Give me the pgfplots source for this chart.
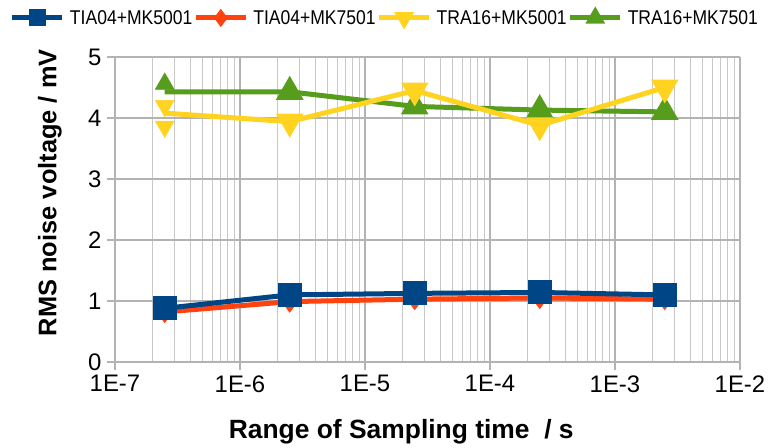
\documentclass[border=0pt]{standalone}
\usepackage{graphicx}
\usepackage{pgfplots}
\pgfplotsset{compat=1.18}
\usepackage{fontspec}
\setmainfont{Liberation Sans}
\definecolor{lblue}{HTML}{004586}
\definecolor{lred}{HTML}{FF420E}
\definecolor{lyellow}{HTML}{FFD320}
\definecolor{lgreen}{HTML}{579D1C}
\definecolor{gridgray}{HTML}{B3B3B3}
\definecolor{minorgray}{HTML}{C8C8C8}
\newcommand{\legtext}[1]{\scalebox{0.88}[1]{\fontsize{20}{24}\selectfont #1}}
\begin{document}
\begin{tikzpicture}
\useasboundingbox (-115bp,-86bp) rectangle (654bp,362bp);
\begin{axis}[
  scale only axis, width=625bp, height=305bp,
  at={(0,0)}, anchor=south west,
  xmode=log, xmin=1e-7, xmax=1e-2, ymin=0, ymax=5,
  xtick={1e-7,1e-6,1e-5,1e-4,1e-3,1e-2},
  xticklabels={1E-7,1E-6,1E-5,1E-4,1E-3,1E-2},
  ytick={0,1,2,3,4,5},
  minor xtick={2e-7,3e-7,4e-7,5e-7,6e-7,7e-7,8e-7,9e-7,
    2e-6,3e-6,4e-6,5e-6,6e-6,7e-6,8e-6,9e-6,
    2e-5,3e-5,4e-5,5e-5,6e-5,7e-5,8e-5,9e-5,
    2e-4,3e-4,4e-4,5e-4,6e-4,7e-4,8e-4,9e-4,
    2e-3,3e-3,4e-3,5e-3,6e-3,7e-3,8e-3,9e-3},
  ymajorgrids, xmajorgrids, xminorgrids,
  major grid style={gridgray, line width=1.2bp},
  minor grid style={minorgray, line width=1bp},
  axis line style={gridgray, line width=1.2bp},
  axis x line*=bottom, axis y line*=left,
  tick style={gridgray, line width=1.2bp},
  tick align=outside, major tick length=8bp, minor tick length=0pt,
  /pgf/number format/assume math mode=true,
  tick label style={font=\fontsize{24}{28}\selectfont, text=black},
  xticklabel style={yshift=-2bp},
  yticklabel style={xshift=-2bp},
  xlabel={Range of Sampling time\ \ / s},
  ylabel={RMS noise voltage / mV},
  xlabel style={font=\bfseries\fontsize{26.5}{30}\selectfont, at={(axis description cs:0.458,-0.23)}, anchor=center},
  ylabel style={font=\bfseries\fontsize{25.5}{30}\selectfont, at={(axis description cs:-0.104,0.555)}, anchor=center},
  legend style={at={(axis description cs:-0.1680,1.128)}, anchor=west,
    draw=none, fill=none, inner sep=0pt, outer sep=0pt,
    nodes={inner sep=0pt, outer sep=0pt},
    column sep=0pt,
    /tikz/every odd column/.style={column sep=5bp},
    /tikz/every even column/.style={column sep=1bp}},
  legend columns=4,
  legend image code/.code={\draw[mark repeat=2,mark phase=2,#1] plot coordinates {(0bp,0bp) (25bp,0bp) (50bp,0bp)};},
  clip=false,
]
% legend entries
\addlegendimage{lblue, line width=5bp, mark=square*, mark size=6bp, mark options={solid}}
\addlegendentry{\legtext{TIA04+MK5001}}
\addlegendimage{lred, line width=5bp, mark=diamond*, mark size=5bp}
\addlegendentry{\legtext{TIA04+MK7501}}
\addlegendimage{lyellow, line width=5bp, mark=triangle*, mark size=6.5bp, mark options={rotate=180}}
\addlegendentry{\legtext{TRA16+MK5001}}
\addlegendimage{lgreen, line width=5bp, mark=triangle*, mark size=6.5bp}
\addlegendentry{\legtext{TRA16+MK7501}}

% green TRA16+MK7501
\addplot[lgreen, line width=5bp, mark=triangle*, mark size=11bp, mark indices={2,3,4,5}, forget plot]
  coordinates {(2.5e-7,4.43) (2.5e-6,4.43) (2.5e-5,4.19) (2.5e-4,4.13) (2.5e-3,4.10)};
% yellow TRA16+MK5001
\addplot[lyellow, line width=5bp, mark=triangle*, mark size=11bp, mark options={rotate=180}, mark indices={2,3,4,5}, forget plot]
  coordinates {(2.5e-7,4.08) (2.5e-6,3.94) (2.5e-5,4.45) (2.5e-4,3.88) (2.5e-3,4.50)};
\addplot[lyellow, only marks, mark=triangle*, mark size=11bp, mark options={rotate=180}, forget plot]
  coordinates {(2.5e-7,4.20) (2.5e-7,3.86)};
\addplot[lgreen, only marks, mark=triangle*, mark size=11bp, forget plot]
  coordinates {(2.5e-7,4.56)};
% red TIA04+MK7501
\addplot[lred, line width=5bp, mark=diamond*, mark size=7bp, forget plot]
  coordinates {(2.5e-7,0.82) (2.5e-6,0.99) (2.5e-5,1.03) (2.5e-4,1.05) (2.5e-3,1.03)};
% blue TIA04+MK5001
\addplot[lblue, line width=5bp, mark=square*, mark size=9.5bp, forget plot]
  coordinates {(2.5e-7,0.88) (2.5e-6,1.10) (2.5e-5,1.125) (2.5e-4,1.14) (2.5e-3,1.10)};
\end{axis}
\end{tikzpicture}
\end{document}
